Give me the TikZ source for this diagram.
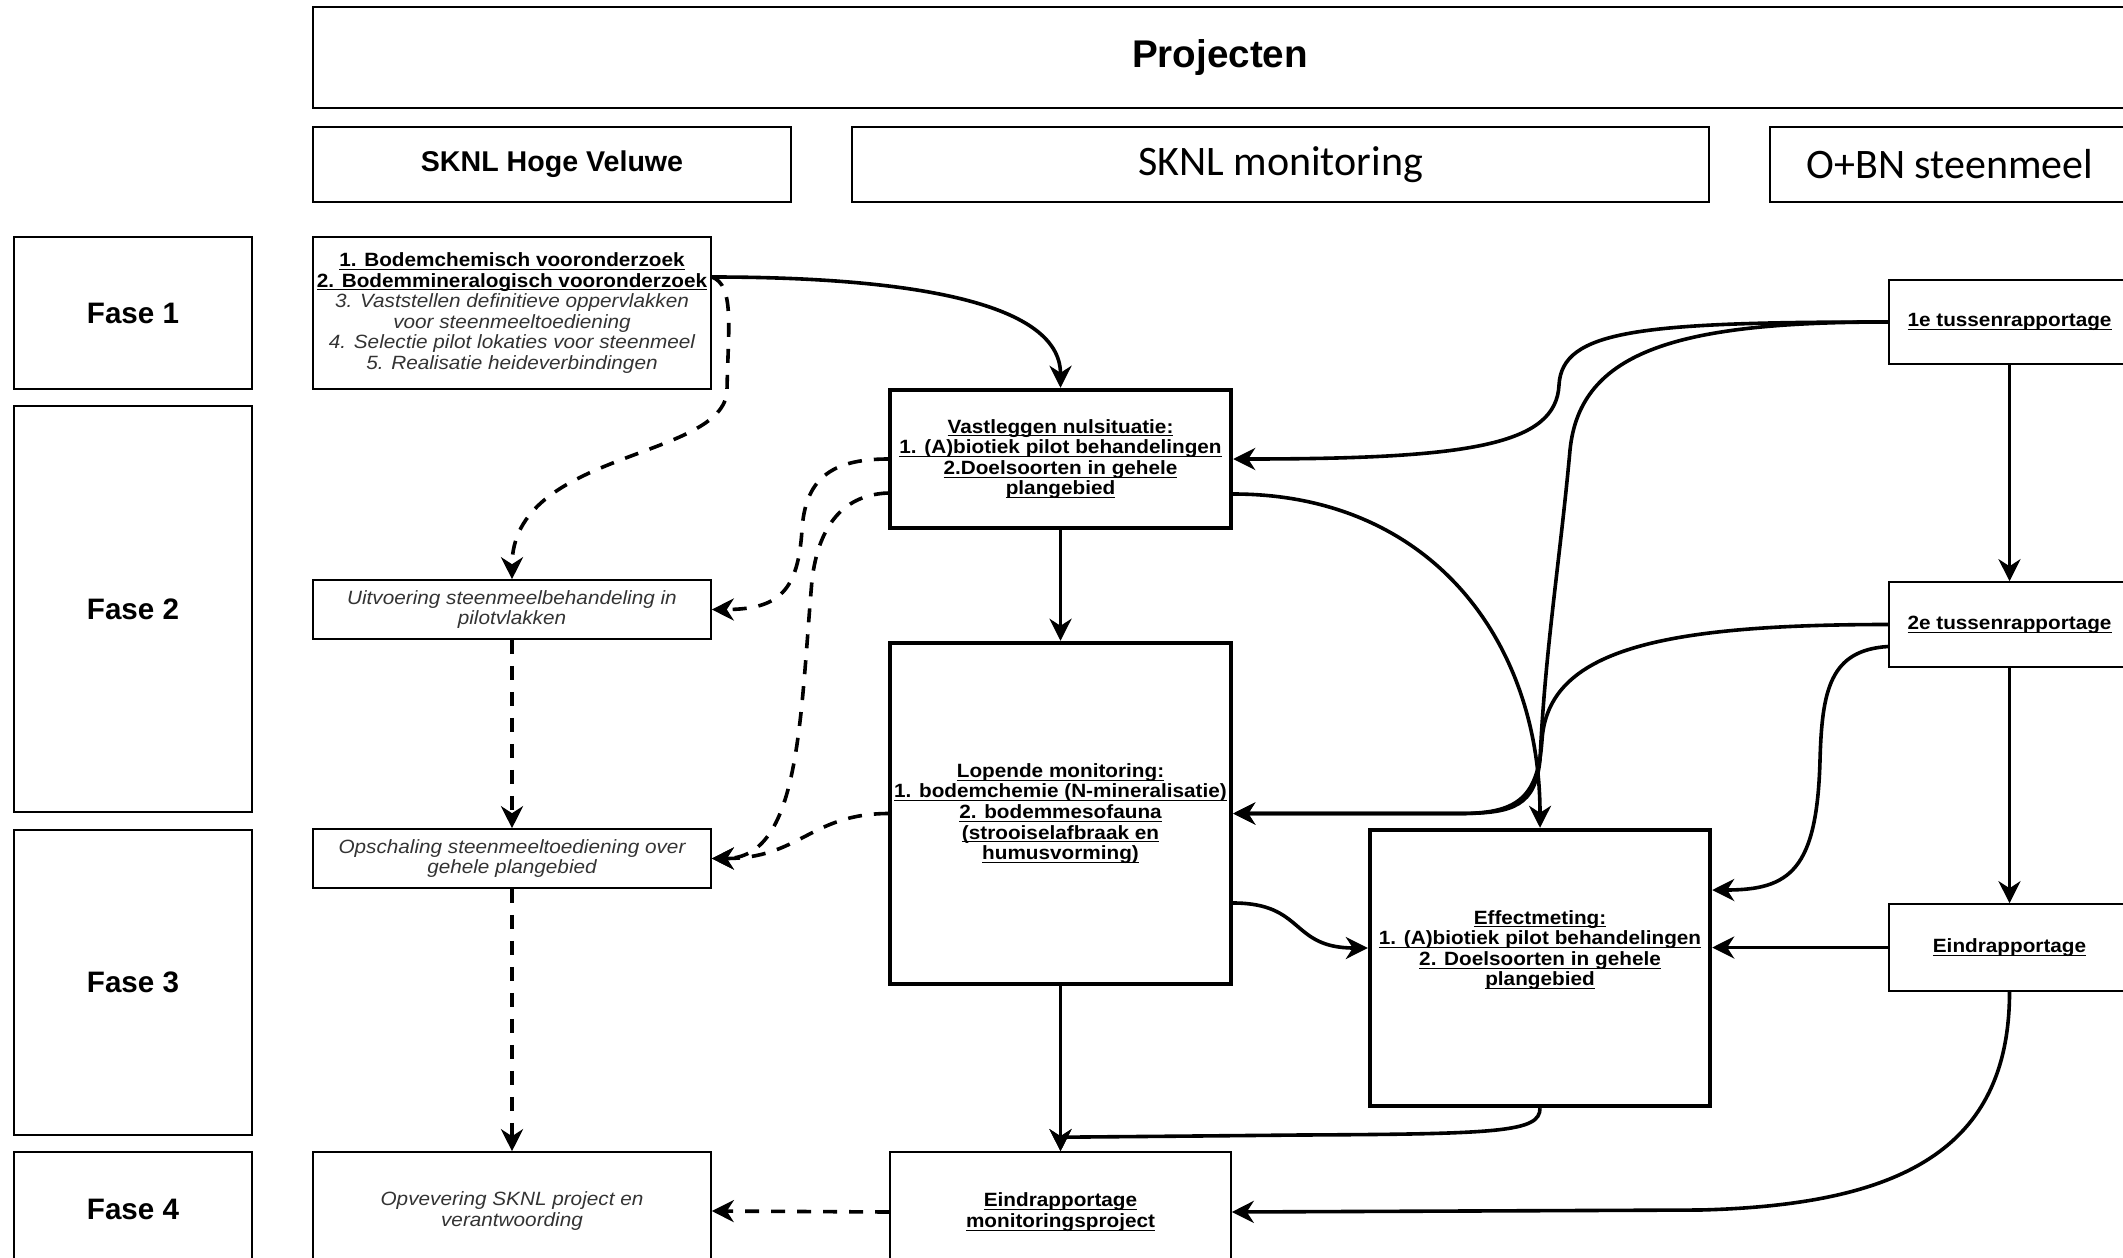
\documentclass[tikz,border=0pt]{standalone}
\usepackage{fontspec}
\setmainfont{Liberation Sans}
\newfontfamily\calib{Carlito}
\newfontfamily\wide{Liberation Sans}[FakeStretch=1.08]
\usetikzlibrary{arrows.meta}
\definecolor{txtgray}{HTML}{333333}
\newcommand\fs{\wide\fontsize{9.6}{10.3}\selectfont}
\newcommand\ulx[1]{\underline{\raisebox{0pt}[\height][0pt]{#1}}}
\begin{document}
\begin{tikzpicture}[x=0.5pt,y=-0.5pt,
  tbox/.style={draw, line width=0.8pt, inner sep=0pt, align=center, font=\fs},
  kbox/.style={draw, line width=2.2pt, inner sep=0pt, align=center, font=\fs\bfseries},
  gbox/.style={tbox, font=\fs\itshape, text=txtgray},
  sz/.style 2 args={minimum width=#1, minimum height=#2},
  con/.style={line width=1.8pt, -{Stealth[length=11pt,width=11pt,inset=3.5pt]}},
  dcon/.style={con, dash pattern=on 7pt off 6pt},
  fase/.style={tbox, font=\rmfamily\fontsize{14.8}{16}\selectfont\bfseries},
]
\useasboundingbox (0,0) rectangle (2123,1257);
\clip (0,0) rectangle (2123,1257);
\fill[white] (0,0) rectangle (2123,1257);

% header
\node[tbox, sz={907pt}{50.5pt}, font=\fontsize{19.3}{20}\selectfont\bfseries] (proj) at (1220,57.5) {Projecten};
\node[tbox, sz={239pt}{37.5pt}, font=\fontsize{14.3}{15}\selectfont\bfseries] (hv) at (552,164.5) {SKNL Hoge Veluwe};
\node[tbox, sz={428.5pt}{37.5pt}, font=\calib\fontsize{21}{22}\selectfont] (mon) at (1280.5,164.5) {SKNL monitoring};
\node[tbox, sz={180pt}{37.5pt}, font=\calib\fontsize{21}{22}\selectfont] (obn) at (1950,164.5) {O+BN steenmeel};

% phases
\node[fase, sz={119pt}{76pt}] (f1) at (133,313) {Fase 1};
\node[fase, sz={119pt}{203pt}] (f2) at (133,609) {Fase 2};
\node[fase, sz={119pt}{152.5pt}] (f3) at (133,982.5) {Fase 3};
\node[fase, sz={119pt}{57pt}] (f4) at (133,1209) {Fase 4};

% left column
\node[tbox, sz={199pt}{76pt}] (a) at (512,313) {{\bfseries\ulx{1. Bodemchemisch vooronderzoek}}\\{\bfseries\ulx{2. Bodemmineralogisch vooronderzoek}}\\{\itshape\color{txtgray}3. Vaststellen definitieve oppervlakken}\\{\itshape\color{txtgray}voor steenmeeltoediening}\\{\itshape\color{txtgray}4. Selectie pilot lokaties voor steenmeel}\\{\itshape\color{txtgray}5. Realisatie heideverbindingen}};
\node[gbox, sz={199pt}{29.5pt}] (u) at (512,609.5) {Uitvoering steenmeelbehandeling in\\pilotvlakken};
\node[gbox, sz={199pt}{29.5pt}] (o) at (512,858.5) {Opschaling steenmeeltoediening over\\gehele plangebied};
\node[gbox, sz={199pt}{59pt}] (v) at (512,1211) {Opvevering SKNL project en\\verantwoording};

% middle column
\node[kbox, sz={170.5pt}{69pt}] (vast) at (1060.5,459) {\ulx{Vastleggen nulsituatie:}\\\ulx{1. (A)biotiek pilot behandelingen}\\\ulx{2.Doelsoorten in gehele}\\\ulx{plangebied}};
\node[kbox, sz={170.5pt}{170.5pt}] (lop) at (1060.5,813.5) {\ulx{Lopende monitoring:}\\\ulx{1. bodemchemie (N-mineralisatie)}\\\ulx{2. bodemmesofauna}\\\ulx{(strooiselafbraak en}\\\ulx{humusvorming)}};
\node[tbox, sz={170.5pt}{60pt}, font=\fs\bfseries] (endm) at (1060.5,1212) {\ulx{Eindrapportage}\\\ulx{monitoringsproject}};
\node[kbox, sz={170pt}{138pt}] (eff) at (1540,968) {};
\node[inner sep=0pt, align=center, font=\fs\bfseries] (efft) at (1540,950) {\ulx{Effectmeting:}\\\ulx{1. (A)biotiek pilot behandelingen}\\\ulx{2. Doelsoorten in gehele}\\\ulx{plangebied}};

% right column
\node[tbox, sz={120.5pt}{42pt}, font=\fs\bfseries] (r1) at (2009.5,322) {\ulx{1e tussenrapportage}};
\node[tbox, sz={120.5pt}{42.5pt}, font=\fs\bfseries] (r2) at (2009.5,624.5) {\ulx{2e tussenrapportage}};
\node[tbox, sz={120.5pt}{43.5pt}, font=\fs\bfseries] (r3) at (2009.5,947.5) {\ulx{Eindrapportage}};

% solid connectors
\draw[con] ([yshift=18pt]a.east) .. controls (900,277) and (1060.5,300) .. (vast.north);
\draw[con] (vast.south) -- (lop.north);
\draw[con] (lop.south) -- (endm.north);
\draw[con] (eff.south) .. controls (1540,1132) and (1500,1134) .. (1300,1135) .. controls (1100,1137) and (1060.5,1137) .. (endm.north);
\draw[con] ([yshift=-17.5pt]vast.east) .. controls (1430,494) and (1540,640) .. (eff.north);
\draw[con] ([yshift=-44.75pt]lop.east) .. controls (1305,903) and (1290,948) .. ([yshift=10pt]eff.west);
\draw[con] (r3.west) -- (r3.west -| eff.east);
\draw[con] (r1.south) -- (r2.north);
\draw[con] (r2.south) -- (r3.north);
\draw[con] (r3.south) .. controls (2009.5,1150) and (1900,1205) .. (1700,1210) -- (endm.east);
\draw[con] (r1.west) .. controls (1640,322) and (1562,330) .. (1559,385) .. controls (1556,445) and (1470,459) .. (vast.east);
\draw[con] (r1.west) .. controls (1680,322) and (1580,350) .. (1570,450) .. controls (1560,560) and (1545,650) .. (1540,760) .. controls (1535,805) and (1515,813.5) .. (1460,813.5) -- (lop.east);
\draw[con] (r2.west) .. controls (1660,624.5) and (1548,650) .. (1542,740) .. controls (1538,800) and (1515,813.5) .. (1460,813.5) -- (lop.east);
\draw[con] ([yshift=-11pt]r2.west) .. controls (1830,650) and (1822,690) .. (1820,760) .. controls (1817,870) and (1790,890) .. ([yshift=39pt]eff.east);

% dashed connectors
\draw[dcon] ([yshift=18pt]a.east) .. controls (735,285) and (728,330) .. (727,390) .. controls (725,460) and (512,450) .. (u.north);
\draw[dcon] (vast.west) .. controls (830,459) and (805,480) .. (802,530) .. controls (798,590) and (780,609.5) .. (u.east);
\draw[dcon] ([yshift=-17pt]vast.west) .. controls (840,495) and (818,530) .. (812,580) .. controls (800,720) and (800,858.5) .. (o.east);
\draw[dcon] (lop.west) .. controls (810,814) and (800,858.5) .. (o.east);
\draw[dcon] (u.south) -- (o.north);
\draw[dcon] (o.south) -- (v.north);
\draw[dcon] (endm.west) -- (v.east);
\end{tikzpicture}
\end{document}
